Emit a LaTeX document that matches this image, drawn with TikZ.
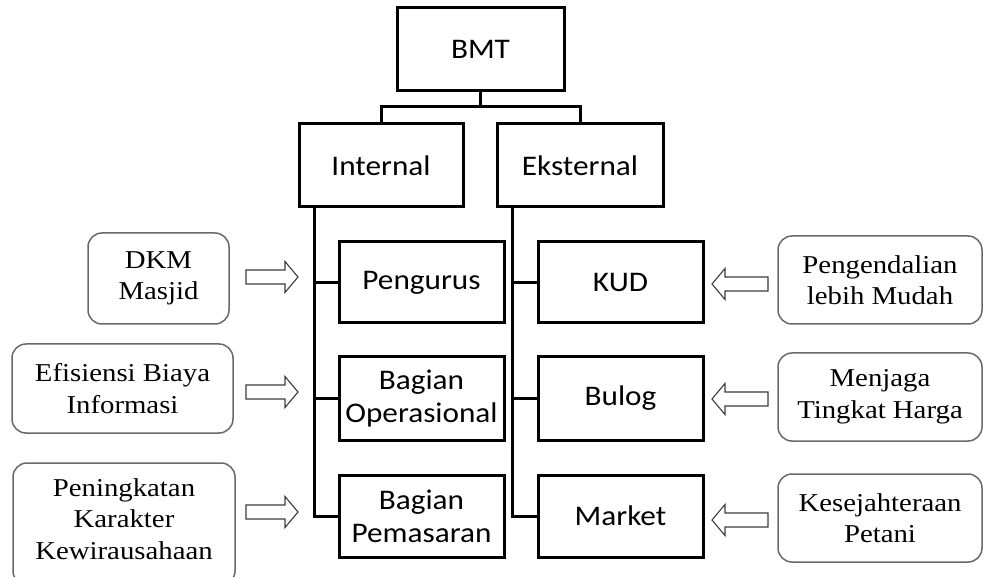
\documentclass[tikz,border=0pt]{standalone}
\usepackage{fontspec}
\setmainfont{Liberation Serif}[FakeStretch=1.12]
\newfontfamily\boxfont{Carlito}[FakeStretch=1.1]
\definecolor{rbgray}{RGB}{105,105,105}
\definecolor{argray}{RGB}{60,60,60}
\tikzset{
  orgbox/.style={draw=black, line width=3pt, align=center, inner sep=0pt,
    font=\boxfont\fontsize{28.4}{33}\selectfont},
  notebox/.style={draw=rbgray, line width=1.5pt, rounded corners=14pt, align=center, inner sep=0pt,
    font=\fontsize{25.7}{31.5}\selectfont},
  tree/.style={line width=3pt, draw=black},
  hollow/.style={draw=argray, line width=1.1pt, fill=white, line join=miter}
}
\newcommand\arrowR[1]{\draw[hollow] (#1) ++(-26,-7) -- ++(39,0) -- ++(0,-8.5) -- ++(13,15.5) -- ++(-13,15.5) -- ++(0,-8.5) -- ++(-39,0) -- cycle;}
\newcommand\arrowL[1]{\draw[hollow] (#1) ++(28,-7) -- ++(-43,0) -- ++(0,-8.5) -- ++(-13,15.5) -- ++(13,15.5) -- ++(0,-8.5) -- ++(43,0) -- cycle;}
\begin{document}
\begin{tikzpicture}[x=1pt,y=-1pt]
\useasboundingbox (0,0) rectangle (983,577);
% org boxes
\node[orgbox, minimum width=167pt, minimum height=83pt] (bmt) at (480.5,49.5) {BMT};
\node[orgbox, minimum width=164pt, minimum height=83pt] (int) at (381,165.5) {Internal};
\node[orgbox, minimum width=166pt, minimum height=83pt] (ext) at (580,165.5) {Eksternal};
\node[orgbox, minimum width=165pt, minimum height=81pt] (peng) at (421.5,282.5) {Pengurus};
\node[orgbox, minimum width=165pt, minimum height=83pt] (ops) at (421.5,398.5) {Bagian\\Operasional};
\node[orgbox, minimum width=165pt, minimum height=82pt] (pem) at (421.5,516) {Bagian\\Pemasaran};
\node[orgbox, minimum width=165pt, minimum height=81pt] (kud) at (620.5,282.5) {KUD};
\node[orgbox, minimum width=165pt, minimum height=83pt] (bulog) at (620.5,398.5) {Bulog};
\node[orgbox, minimum width=165pt, minimum height=82pt] (market) at (620.5,516) {Market};
% tree connectors
\coordinate (j) at (480.5,107);
\draw[tree] (bmt.south) -- (j);
\draw[tree] (j) -| (int.north);
\draw[tree] (j) -| (ext.north);
\coordinate (ti) at ([xshift=17pt]int.south west);
\coordinate (te) at ([xshift=17pt]ext.south west);
\draw[tree] (ti) |- (pem.west);
\draw[tree] (peng.west) -- (peng.west -| ti);
\draw[tree] (ops.west) -- (ops.west -| ti);
\draw[tree] (te) |- (market.west);
\draw[tree] (kud.west) -- (kud.west -| te);
\draw[tree] (bulog.west) -- (bulog.west -| te);
% note boxes
\node[notebox, minimum width=141pt, minimum height=91pt] (dkm) at (158.5,278.5) {DKM\\Masjid};
\node[notebox, minimum width=221pt, minimum height=89pt] (efi) at (122.5,388.5) {Efisiensi Biaya\\Informasi};
\node[notebox, minimum width=222pt, minimum height=122pt, text depth=0pt] (pen) at (124,524) {};
\node[font=\fontsize{25.7}{31.5}\selectfont, align=center] (pentext) at (124,519) {Peningkatan\\Karakter\\Kewirausahaan};
\node[notebox, minimum width=204pt, minimum height=88pt] (peng2) at (880,280) {Pengendalian\\lebih Mudah};
\node[notebox, minimum width=204pt, minimum height=88pt] (menj) at (880,397) {Menjaga\\Tingkat Harga};
\node[notebox, minimum width=204pt, minimum height=88pt] (kes) at (880,518) {Kesejahteraan\\Petani};
% hollow arrows
\coordinate (a1) at (272,277);
\coordinate (a2) at (272,392);
\coordinate (a3) at (272,512);
\coordinate (b1) at (740,284);
\coordinate (b2) at (740,399);
\coordinate (b3) at (740,520);
\arrowR{a1}
\arrowR{a2}
\arrowR{a3}
\arrowL{b1}
\arrowL{b2}
\arrowL{b3}
\end{tikzpicture}
\end{document}
